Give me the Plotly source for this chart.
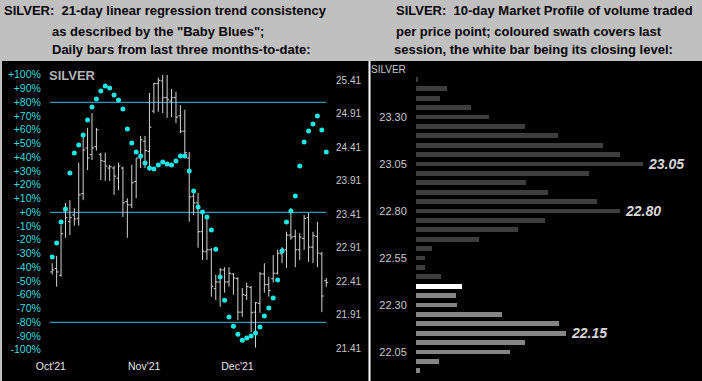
import plotly.graph_objects as go

W, H = 702, 381

# ---------------- data: left panel (daily bars + "Baby Blues") ----------------
bar_idx = list(range(63))
opens = [22.55, 22.60, 22.50, 23.46, 23.30, 23.40, 23.35, 23.72, 24.40, 24.30,
         24.42, 24.30, 24.20, 24.10, 24.10, 23.95, 24.10, 23.60, 23.55, 23.90,
         24.25, 24.50, 24.35, 24.95, 25.36, 25.40, 25.15, 25.10, 25.15, 24.88,
         24.65, 24.25, 23.68, 23.58, 23.15, 22.85, 22.88, 22.30, 22.40, 22.58,
         22.40, 22.52, 22.45, 21.95, 22.20, 22.32, 21.95, 22.08, 22.52, 22.36,
         22.45, 22.53, 22.82, 22.88, 23.10, 23.08, 22.88, 23.05, 23.36, 22.92,
         23.08, 22.82, 22.42]
highs = [22.68, 22.79, 23.25, 23.58, 23.62, 23.50, 24.18, 24.62, 24.70, 24.92,
         24.70, 24.33, 24.33, 24.15, 24.13, 24.18, 24.12, 23.65, 24.15, 24.25,
         24.58, 24.58, 25.22, 25.37, 25.45, 25.49, 25.49, 25.28, 25.24, 25.04,
         24.97, 24.34, 23.77, 23.73, 23.43, 23.37, 22.91, 22.51, 22.61, 22.62,
         22.62, 22.53, 22.47, 22.31, 22.39, 22.34, 22.10, 22.55, 22.68, 22.48,
         22.80, 22.88, 22.92, 23.15, 23.50, 23.18, 23.13, 23.40, 23.43, 23.15,
         23.30, 22.85, 22.46]
lows = [22.51, 22.33, 22.48, 23.06, 23.10, 23.24, 23.24, 23.62, 24.07, 24.22,
        24.36, 23.92, 23.91, 23.91, 23.70, 23.77, 23.37, 23.06, 23.50, 23.65,
        24.10, 24.10, 24.06, 24.92, 24.94, 24.92, 24.85, 24.86, 24.77, 24.62,
        24.30, 23.30, 23.40, 22.91, 22.73, 22.73, 22.18, 22.13, 22.03, 22.24,
        22.33, 22.21, 21.83, 21.88, 22.13, 21.65, 21.42, 21.94, 22.24, 22.18,
        22.39, 22.51, 22.68, 22.61, 23.03, 22.62, 22.73, 22.88, 22.70, 22.68,
        22.62, 21.95, 22.33]
closes = [22.58, 22.55, 23.12, 23.36, 23.36, 23.34, 23.70, 24.37, 24.25, 24.40,
          24.67, 24.21, 24.13, 24.12, 23.98, 24.13, 23.58, 23.55, 23.88, 24.25,
          24.52, 24.36, 24.71, 25.36, 25.41, 25.15, 25.12, 25.15, 24.86, 24.65,
          24.33, 23.67, 23.58, 23.15, 22.86, 22.88, 22.33, 22.40, 22.58, 22.40,
          22.53, 22.46, 21.95, 22.21, 22.33, 21.94, 22.09, 22.52, 22.36, 22.27,
          22.53, 22.83, 22.89, 23.10, 23.07, 22.88, 23.07, 23.35, 22.92, 23.09,
          22.83, 22.19, 22.39]
trend_pct = [-32.5, -22.3, -7.1, 2.4, 28.6, 43.1, 48.9, 56.2, 67.1, 76.6,
             82.4, 88.2, 91.9, 90.4, 85.3, 81.7, 75.1, 60.6, 50.4, 43.9,
             41.0, 35.9, 32.2, 31.5, 34.4, 36.6, 35.1, 34.4, 37.3, 41.0,
             41.0, 30.0, 15.5, 3.9, 0.2, -3.4, -12.9, -26.8, -47.1, -63.9,
             -76.2, -82.8, -88.6, -93.0, -91.4, -90.0, -87.8, -83.5, -75.5, -69.6,
             -62.4, -49.3, -28.1, -7.1, 0.9, 11.9, 33.7, 51.1, 59.1, 64.2,
             70.0, 59.8, 43.9]
trend_levels = [80, 0, -80]

month_ticks = [-0.3, 20.8, 41.9]
month_labels = ["Oct'21", "Nov'21", "Dec'21"]
pct_ticks = [-100, -90, -80, -70, -60, -50, -40, -30, -20, -10, 0,
             10, 20, 30, 40, 50, 60, 70, 80, 90, 100]
pct_labels = ["-100%", "-90%", "-80%", "-70%", "-60%", "-50%", "-40%", "-30%", "-20%", "-10%", "+0%",
              "+10%", "+20%", "+30%", "+40%", "+50%", "+60%", "+70%", "+80%", "+90%", "+100%"]
price_ticks = [21.41, 21.91, 22.41, 22.91, 23.41, 23.91, 24.41, 24.91, 25.41]
price_labels = ["21.41", "21.91", "22.41", "22.91", "23.41", "23.91", "24.41", "24.91", "25.41"]

# ---------------- data: right panel (10-day market profile) ----------------
profile_prices = [23.50, 23.45, 23.40, 23.35, 23.30, 23.25, 23.20, 23.15, 23.10, 23.05,
                  23.00, 22.95, 22.90, 22.85, 22.80, 22.75, 22.70, 22.65, 22.60, 22.55,
                  22.50, 22.45, 22.40, 22.35, 22.30, 22.25, 22.20, 22.15, 22.10, 22.05,
                  22.00, 21.95]
profile_volume = [1.5, 31, 24, 55, 73, 109, 142, 187, 204, 227,
                  173, 110, 132, 181, 204, 129, 102, 63, 16, 9,
                  9, 25, 46, 40, 41, 86, 143, 150, 109, 94,
                  23, 4]
profile_callouts = [23.05, 22.80, 22.15]
session_low, session_high, session_close = 21.95, 22.35, 22.40
profile_ticks = [23.30, 23.05, 22.80, 22.55, 22.30, 22.05]
profile_labels = ["23.30", "23.05", "22.80", "22.55", "22.30", "22.05"]

# ---------------- styling / geometry ----------------
BG = "#c0c0c0"
FONT = "Liberation Sans, Arial, sans-serif"
CYAN_TXT = "#38dcdc"
DOT = "#1ee6e6"
LINE = "#40bde6"
BAR = "#d4d4d4"


def px(xp):
    return xp / W


def py(yp):
    return 1 - yp / H


# left plot: pixel anchors
L_X0, L_X1 = 50, 332
L_Y0, L_Y1 = 62, 355
x_range = [-0.5, 63.3]
pct_range = [(212.3 - L_Y1) / 1.375, (212.3 - L_Y0) / 1.375]
price_range = [21.41 + (348.3 - L_Y1) / 67.0, 21.41 + (348.3 - L_Y0) / 67.0]

# right plot anchors
R_X0, R_X1 = 416, 700
R_Y0, R_Y1 = 62, 381
prof_range = [23.05 - (R_Y1 - 164) / 188.0, 23.05 + (164 - R_Y0) / 188.0]

fig = go.Figure()

fig.add_trace(go.Ohlc(
    x=bar_idx, open=opens, high=highs, low=lows, close=closes,
    xaxis="x", yaxis="y",
    increasing=dict(line=dict(color=BAR, width=1)),
    decreasing=dict(line=dict(color=BAR, width=1)),
    tickwidth=0.45, hoverinfo="skip", showlegend=False,
))
fig.add_trace(go.Scatter(
    x=bar_idx, y=trend_pct, mode="markers", xaxis="x", yaxis="y2",
    marker=dict(color=DOT, size=5, line=dict(width=0)),
    hoverinfo="skip", showlegend=False,
))

bar_colors = []
for p in profile_prices:
    if abs(p - session_close) < 1e-6:
        bar_colors.append("#ffffff")
    elif session_low - 1e-6 <= p <= session_high + 1e-6:
        bar_colors.append("#858585")
    else:
        bar_colors.append("#3e3e3e")

fig.add_trace(go.Bar(
    x=profile_volume, y=profile_prices, orientation="h", width=0.025,
    xaxis="x2", yaxis="y3", marker=dict(color=bar_colors, line=dict(width=0)),
    hoverinfo="skip", showlegend=False,
))

shapes = [
    dict(type="rect", xref="paper", yref="paper", x0=px(2), x1=1, y0=0, y1=py(61),
         fillcolor="#000000", line=dict(width=0), layer="below"),
    dict(type="line", xref="paper", yref="paper", x0=px(369.5), x1=px(369.5), y0=0, y1=py(61),
         line=dict(color="#ffffff", width=2), layer="below"),
]
for lv in trend_levels:
    shapes.append(dict(type="line", xref="x", yref="y2", x0=-0.5, x1=62, y0=lv, y1=lv,
                       line=dict(color=LINE, width=1), layer="below"))

annotations = []
title_lines = [
    ("SILVER:  21-day linear regression trend consistency", 3, 10),
    ("as described by the \"Baby Blues\";", 51, 31),
    ("Daily bars from last three months-to-date:", 51, 49.5),
    ("SILVER:  10-day Market Profile of volume traded", 395, 10),
    ("per price point; coloured swath covers last", 395, 31),
    ("session, the white bar being its closing level:", 393, 49.5),
]
for txt, xx, yy in title_lines:
    annotations.append(dict(text=txt, xref="paper", yref="paper", x=px(xx), y=py(yy),
                            xanchor="left", yanchor="middle", showarrow=False, borderpad=0,
                            font=dict(family=FONT, size=13, color="#000000", weight="bold")))
annotations.append(dict(text="SILVER", xref="paper", yref="paper", x=px(48), y=py(75),
                        xanchor="left", yanchor="middle", showarrow=False, borderpad=0,
                        font=dict(family=FONT, size=13, color="#b4b4b4", weight="bold")))
annotations.append(dict(text="SILVER", xref="paper", yref="paper", x=px(370), y=py(70),
                        xanchor="left", yanchor="middle", showarrow=False, borderpad=0,
                        font=dict(family=FONT, size=10, color="#c8c8c8")))
for p in profile_callouts:
    v = profile_volume[profile_prices.index(p)]
    annotations.append(dict(text=f"{p:.2f}", xref="x2", yref="y3", x=v, y=p,
                            xanchor="left", yanchor="middle", xshift=4, showarrow=False, borderpad=0,
                            font=dict(family=FONT, size=14, color="#d8d8d8",
                                      weight="bold", style="italic")))

noaxis = dict(showgrid=False, zeroline=False, showline=False, automargin=False)

fig.update_layout(
    template="none",
    width=W, height=H, margin=dict(l=0, r=0, t=0, b=0, pad=0), autosize=False,
    paper_bgcolor=BG, plot_bgcolor="rgba(0,0,0,0)",
    showlegend=False, shapes=shapes, annotations=annotations,
    xaxis=dict(domain=[px(L_X0), px(L_X1)], range=x_range, anchor="y",
               tickvals=month_ticks, ticktext=month_labels,
               tickfont=dict(family=FONT, size=10.5, color="#e8e8e8"),
               ticks="outside", ticklen=1, tickcolor="rgba(0,0,0,0)",
               rangeslider=dict(visible=False), fixedrange=True, **noaxis),
    yaxis=dict(domain=[py(L_Y1), py(L_Y0)], range=price_range, anchor="x", side="right",
               tickvals=price_ticks, ticktext=price_labels,
               tickfont=dict(family=FONT, size=10, color="#c8c8c8"),
               ticks="outside", ticklen=1, tickcolor="rgba(0,0,0,0)", **noaxis),
    yaxis2=dict(overlaying="y", range=pct_range, anchor="x", side="left",
                tickvals=pct_ticks, ticktext=pct_labels,
                tickfont=dict(family=FONT, size=10.5, color=CYAN_TXT),
                ticks="outside", ticklen=6, tickcolor="rgba(0,0,0,0)", **noaxis),
    xaxis2=dict(domain=[px(R_X0), px(R_X1)], range=[0, R_X1 - R_X0], anchor="y3",
                showticklabels=False, **noaxis),
    yaxis3=dict(domain=[0, py(R_Y0)], range=prof_range, anchor="x2", side="left",
                tickvals=profile_ticks, ticktext=profile_labels,
                tickfont=dict(family=FONT, size=11, color="#c8c8c8"),
                ticks="outside", ticklen=6, tickcolor="rgba(0,0,0,0)", **noaxis),
    bargap=0,
)

fig.write_html(
    "out.html",
    config={"displayModeBar": False, "staticPlot": True},
    post_script="document.body.style.margin='0';document.body.style.overflow='hidden';",
)
